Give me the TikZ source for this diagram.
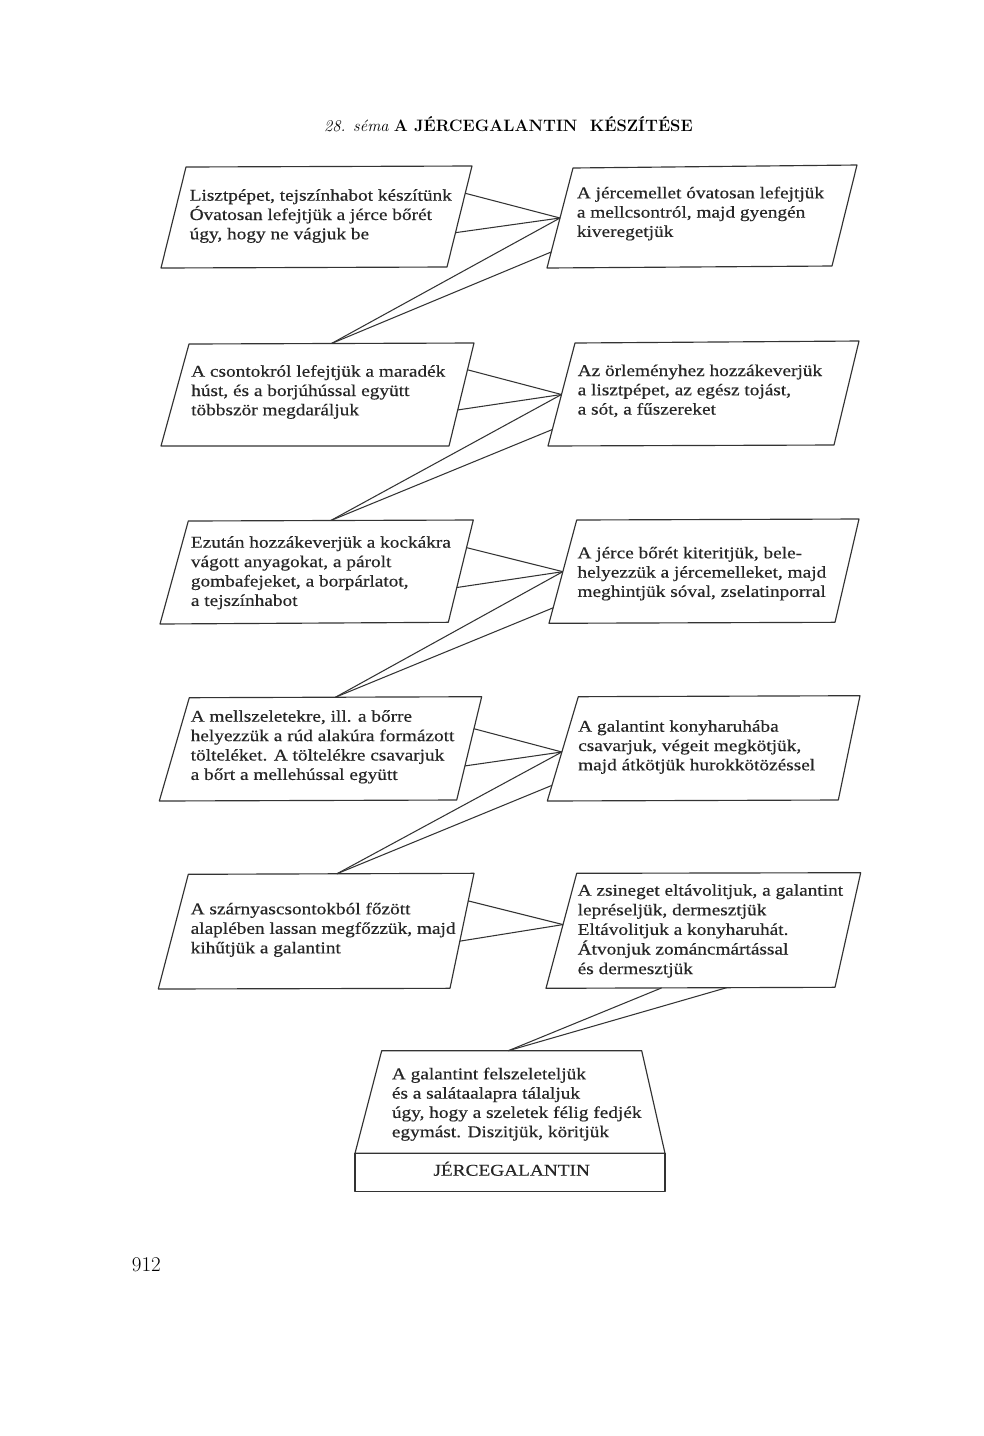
\documentclass[tikz,border=0pt]{standalone}
\usepackage{fontspec}
\newfontfamily\boxfamily{Liberation Serif}[FakeStretch=1.17,FakeBold=0.4]
\usetikzlibrary{calc}
\newcommand{\bt}[2][19.3pt]{\parbox[t]{330pt}{\boxfamily\fontsize{16.5}{#1}\selectfont\setlength{\baselineskip}{#1}#2}}
\tikzset{
  boxline/.style={draw=black!80, line width=1.15pt, line join=round},
  conn/.style={draw=black!80, line width=1.05pt},
  txt/.style={anchor=base west, inner sep=0pt, text=black!85},
}
\begin{document}
\begin{tikzpicture}[x=1pt,y=-1pt]
\fill[white] (0,0) rectangle (984,1436);
\useasboundingbox (0,0) rectangle (984,1436);

% title and page number
\node[anchor=base, inner sep=0pt, font=\fontsize{16.5}{18}\selectfont] (title) at (508.4,131)
  {\textit{28. séma} \textbf{A JÉRCEGALANTIN\ \ KÉSZÍTÉSE}};
\node[anchor=base west, inner sep=0pt, font=\fontsize{21}{24}\selectfont] (page) at (131.7,1271) {912};

% ---- box corners ----
\coordinate (L1tl) at (186,167);   \coordinate (L1tr) at (472,166);
\coordinate (L1br) at (447,267);   \coordinate (L1bl) at (161,268);
\coordinate (R1tl) at (573,168);   \coordinate (R1tr) at (857,165);
\coordinate (R1br) at (832,266);   \coordinate (R1bl) at (547,268);

\coordinate (L2tl) at (189,344);   \coordinate (L2tr) at (474,343);
\coordinate (L2br) at (449,446);   \coordinate (L2bl) at (161,446);
\coordinate (R2tl) at (575,343);   \coordinate (R2tr) at (859,341);
\coordinate (R2br) at (834,445);   \coordinate (R2bl) at (548,446);

\coordinate (L3tl) at (188.3,521); \coordinate (L3tr) at (473.3,520);
\coordinate (L3br) at (448.3,622.3); \coordinate (L3bl) at (160,624);
\coordinate (R3tl) at (576.7,520); \coordinate (R3tr) at (859,519);
\coordinate (R3br) at (835,622.3); \coordinate (R3bl) at (549,623.3);

\coordinate (L4tl) at (189.3,697.7); \coordinate (L4tr) at (481.7,696.7);
\coordinate (L4br) at (456.7,800);   \coordinate (L4bl) at (159.3,801);
\coordinate (R4tl) at (578.3,696.7); \coordinate (R4tr) at (860,695.7);
\coordinate (R4br) at (838.3,800);   \coordinate (R4bl) at (547.3,801);

\coordinate (L5tl) at (188.3,874.3); \coordinate (L5tr) at (474,873.3);
\coordinate (L5br) at (450,988.3);   \coordinate (L5bl) at (158.3,989);
\coordinate (R5tl) at (576.7,873.3); \coordinate (R5tr) at (860.7,872.7);
\coordinate (R5br) at (835,987.3);   \coordinate (R5bl) at (546,988.3);

\coordinate (Ftl) at (381.7,1050.7); \coordinate (Ftr) at (641.7,1050.7);
\coordinate (Fbr) at (665,1153.3);   \coordinate (Fbl) at (355,1153.3);
\coordinate (Gbr) at (665,1191.7);   \coordinate (Gbl) at (355,1191.7);

% ---- boxes ----
\foreach \b in {L1,R1,L2,R2,L3,R3,L4,R4,L5,R5}{
  \draw[boxline] (\b tl) -- (\b tr) -- (\b br) -- (\b bl) -- cycle;
}
\draw[boxline] (Ftl) -- (Ftr) -- (Fbr) -- (Fbl) -- cycle;
\draw[boxline] (Fbl) -- (Gbl) -- (Gbr) -- (Fbr);

% ---- texts ----
\node[txt] (tL1) at (189.5,200.7) {\bt{Lisztpépet, tejszínhabot készítünk\\Óvatosan lefejtjük a jérce bőrét\\úgy, hogy ne vágjuk be}};
\node[txt] (tR1) at (576.7,198.3) {\bt{A jércemellet óvatosan lefejtjük\\a mellcsontról, majd gyengén\\kiveregetjük}};
\node[txt] (tL2) at (191,376.7) {\bt{A csontokról lefejtjük a maradék\\húst, és a borjúhússal együtt\\többször megdaráljuk}};
\node[txt] (tR2) at (577.5,376) {\bt{Az örleményhez hozzákeverjük\\a lisztpépet, az egész tojást,\\a sót, a fűszereket}};
\node[txt] (tL3) at (190.7,547.7) {\bt[19.4pt]{Ezután hozzákeverjük a kockákra\\vágott anyagokat, a párolt\\gombafejeket, a borpárlatot,\\a tejszínhabot}};
\node[txt] (tR3) at (577.3,558.3) {\bt{A jérce bőrét kiteritjük, bele-\\helyezzük a jércemelleket, majd\\meghintjük sóval, zselatinporral}};
\node[txt] (tL4) at (190.5,721.7) {\bt[19.4pt]{A mellszeletekre, ill. a bőrre\\helyezzük a rúd alakúra formázott\\tölteléket. A töltelékre csavarjuk\\a bőrt a mellehússal együtt}};
\node[txt] (tR4) at (578,731.7) {\bt{A galantint konyharuhába\\csavarjuk, végeit megkötjük,\\majd átkötjük hurokkötözéssel}};
\node[txt] (tL5) at (190.5,914.3) {\bt[19.5pt]{A szárnyascsontokból főzött\\alaplében lassan megfőzzük, majd\\kihűtjük a galantint}};
\node[txt] (tR5) at (577.5,895.7) {\bt[19.6pt]{A zsineget eltávolitjuk, a galantint\\lepréseljük, dermesztjük\\Eltávolitjuk a konyharuhát.\\Átvonjuk zománcmártással\\és dermesztjük}};
\node[txt] (tF) at (391.7,1079.3) {\bt{A galantint felszeleteljük\\és a salátaalapra tálaljuk\\úgy, hogy a szeletek félig fedjék\\egymást. Diszitjük, köritjük}};
\node[anchor=base, inner sep=0pt, text=black!85, font=\boxfamily\fontsize{16.5}{19}\selectfont] (tG) at (511.7,1175.7) {JÉRCEGALANTIN};

% ---- connector end points ----
\coordinate (L1a) at ($(L1tr)!0.27!(L1br)$); \coordinate (L1b) at ($(L1tr)!0.66!(L1br)$);
\coordinate (R1c) at ($(R1tl)!0.50!(R1bl)$); \coordinate (R1d) at ($(R1tl)!0.84!(R1bl)$);
\coordinate (L2t) at ($(L2tl)!0.50!(L2tr)$);
\coordinate (L2a) at ($(L2tr)!0.26!(L2br)$); \coordinate (L2b) at ($(L2tr)!0.65!(L2br)$);
\coordinate (R2c) at ($(R2tl)!0.50!(R2bl)$); \coordinate (R2d) at ($(R2tl)!0.84!(R2bl)$);
\coordinate (L3t) at ($(L3tl)!0.50!(L3tr)$);
\coordinate (L3a) at ($(L3tr)!0.27!(L3br)$); \coordinate (L3b) at ($(L3tr)!0.66!(L3br)$);
\coordinate (R3c) at ($(R3tl)!0.50!(R3bl)$); \coordinate (R3d) at ($(R3tl)!0.85!(R3bl)$);
\coordinate (L4t) at ($(L4tl)!0.50!(L4tr)$);
\coordinate (L4a) at ($(L4tr)!0.31!(L4br)$); \coordinate (L4b) at ($(L4tr)!0.67!(L4br)$);
\coordinate (R4c) at ($(R4tl)!0.53!(R4bl)$); \coordinate (R4d) at ($(R4tl)!0.85!(R4bl)$);
\coordinate (L5t) at ($(L5tl)!0.52!(L5tr)$);
\coordinate (L5a) at ($(L5tr)!0.24!(L5br)$); \coordinate (L5b) at ($(L5tr)!0.59!(L5br)$);
\coordinate (R5c) at ($(R5tl)!0.446!(R5bl)$);
\coordinate (R5e) at ($(R5bl)!0.40!(R5br)$); \coordinate (R5f) at ($(R5bl)!0.625!(R5br)$);
\coordinate (Ft) at ($(Ftl)!0.487!(Ftr)$);

% ---- connectors ----
\foreach \n/\m in {1/2,2/3,3/4,4/5}{
  \draw[conn] (L\n a) -- (R\n c);
  \draw[conn] (L\n b) -- (R\n c);
  \draw[conn] (R\n c) -- (L\m t);
  \draw[conn] (R\n d) -- (L\m t);
}
\draw[conn] (L5a) -- (R5c);
\draw[conn] (L5b) -- (R5c);
\draw[conn] (R5e) -- (Ft);
\draw[conn] (R5f) -- (Ft);
\end{tikzpicture}
\end{document}
